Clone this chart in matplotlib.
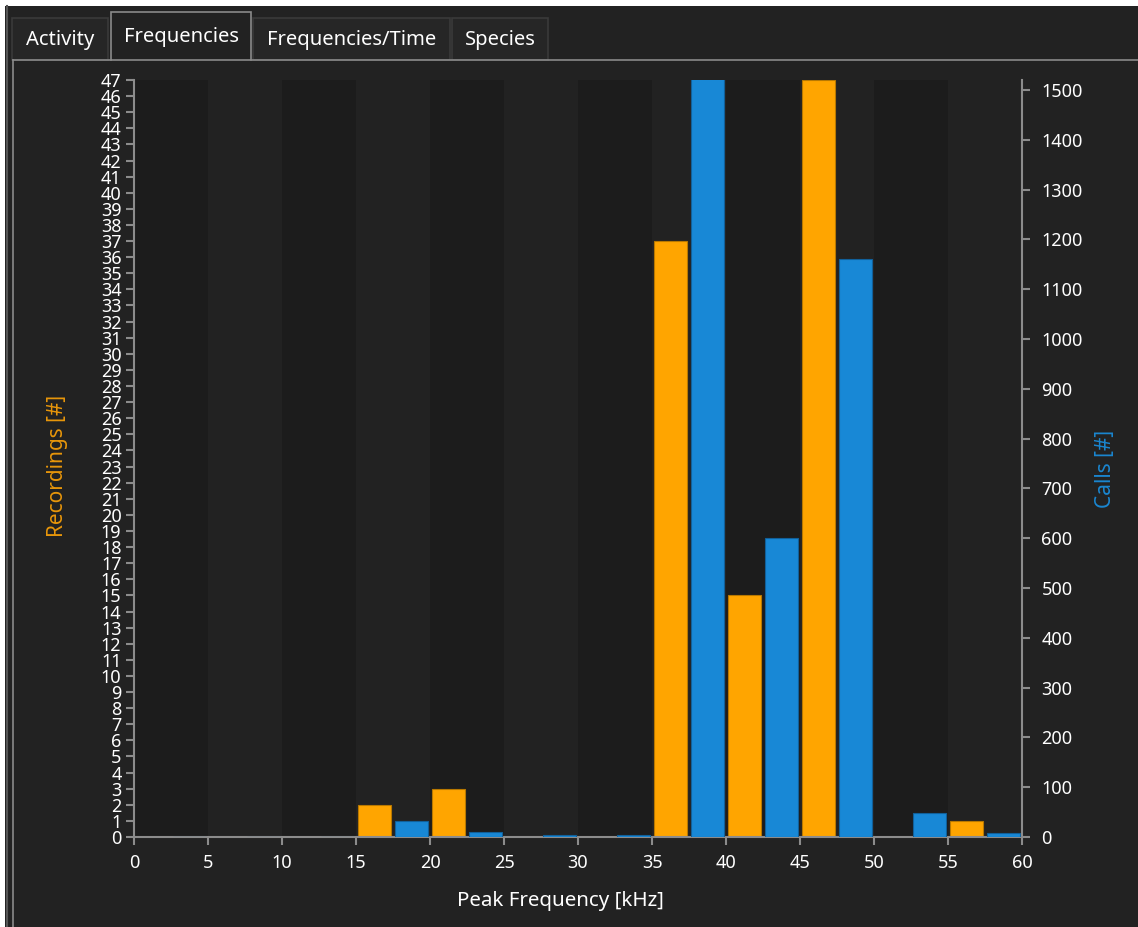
import matplotlib.pyplot as plt
from matplotlib.patches import Rectangle
from matplotlib.lines import Line2D
import numpy as np

# Data
bin_starts = [0, 5, 10, 15, 20, 25, 30, 35, 40, 45, 50, 55]
recordings = [0, 0, 0, 2, 3, 0, 0, 37, 15, 47, 0, 1]
calls = [0, 0, 0, 32, 11, 4, 4, 1530, 601, 1161, 49, 8]
tabs = ['Activity', 'Frequencies', 'Frequencies/Time', 'Species']

W, H = 1138, 927
bg = '#222222'
band = '#1c1c1c'
orange = '#ffa500'
blue = '#1888d6'
grey = '#8c8c8c'

plt.rcParams['font.family'] = ['Noto Sans', 'DejaVu Sans']

fig = plt.figure(figsize=(W / 100, H / 100), dpi=100, facecolor=bg)

def fx(px):
    return px / W

def fy(py):
    return 1 - py / H

# window chrome
fig.patches.append(Rectangle((0, fy(6)), 1, fy(0) - fy(6), transform=fig.transFigure,
                             facecolor='white', edgecolor='none'))
fig.patches.append(Rectangle((0, 0), fx(5), 1, transform=fig.transFigure,
                             facecolor='white', edgecolor='none'))
fig.add_artist(Line2D([fx(6.5), fx(6.5)], [0, fy(6)], transform=fig.transFigure, color='#555555', lw=1.5))

# tabs
tab_x = [(12, 108), (111, 251), (253, 450), (452, 548)]
for i, (name, (x0, x1)) in enumerate(zip(tabs, tab_x)):
    sel = (i == 1)
    top = 12 if sel else 18
    fig.patches.append(Rectangle((fx(x0), fy(60)), fx(x1 - x0), fy(top) - fy(60),
                                 transform=fig.transFigure,
                                 facecolor=bg if sel else '#262626',
                                 edgecolor='#8a8a8a' if sel else '#3a3a3a', lw=1.2))
    fig.text(fx((x0 + x1) / 2), fy((top + 60) / 2 + 1), name, color='white',
             ha='center', va='center', fontsize=14.5)

# panel frame
fig.add_artist(Line2D([fx(13), fx(111)], [fy(60), fy(60)], transform=fig.transFigure, color='#8a8a8a', lw=1.2))
fig.add_artist(Line2D([fx(251), 1], [fy(60), fy(60)], transform=fig.transFigure, color='#8a8a8a', lw=1.2))
fig.add_artist(Line2D([fx(13), fx(13)], [0, fy(60)], transform=fig.transFigure, color='#8a8a8a', lw=1.2))

# plot area
left, right, top, bottom = 134, 1022, 80, 837
ax = fig.add_axes([fx(left), fy(bottom), fx(right - left), fy(top) - fy(bottom)])
ax.set_facecolor(bg)
for i, b in enumerate(bin_starts):
    if i % 2 == 0:
        ax.axvspan(b, b + 5, color=band, lw=0, zorder=0)

x = np.array(bin_starts, dtype=float)
ax.bar(x + 1.25, recordings, width=2.2, color=orange, edgecolor='#b87800', lw=0.8, zorder=2)
ax.set_xlim(0, 60)
ax.set_ylim(0, 47)
ax.set_xticks(range(0, 61, 5))
ax.set_yticks(range(0, 48))

ax2 = ax.twinx()
ax2.bar(x + 3.75, calls, width=2.2, color=blue, edgecolor='#11609a', lw=0.8, zorder=2)
ax2.set_ylim(0, 1520)
ax2.set_yticks(range(0, 1501, 100))

for a in (ax, ax2):
    for s in a.spines.values():
        s.set_visible(False)
    a.tick_params(colors=grey, labelcolor='white', length=6, width=1.5, labelsize=13)
ax.spines['left'].set_visible(True)
ax.spines['left'].set_color(grey)
ax.spines['left'].set_linewidth(1.5)
ax.spines['bottom'].set_visible(True)
ax.spines['bottom'].set_color(grey)
ax.spines['bottom'].set_linewidth(1.5)
ax2.spines['right'].set_visible(True)
ax2.spines['right'].set_color(grey)
ax2.spines['right'].set_linewidth(1.5)
ax.tick_params(axis='y', pad=3)
ax.tick_params(axis='x', pad=6)
ax2.tick_params(axis='y', pad=8)

fig.text(fx(560), fy(901), 'Peak Frequency [kHz]', color='white', ha='center', va='center', fontsize=14.8)
fig.text(fx(57), fy(466), 'Recordings [#]', color='#e8960a', ha='center', va='center',
         rotation=90, fontsize=15, fontweight='semibold')
fig.text(fx(1105), fy(469), 'Calls [#]', color='#1a86d0', ha='center', va='center',
         rotation=90, fontsize=15, fontweight='semibold')

fig.savefig('out.png', dpi=100, facecolor=bg)
